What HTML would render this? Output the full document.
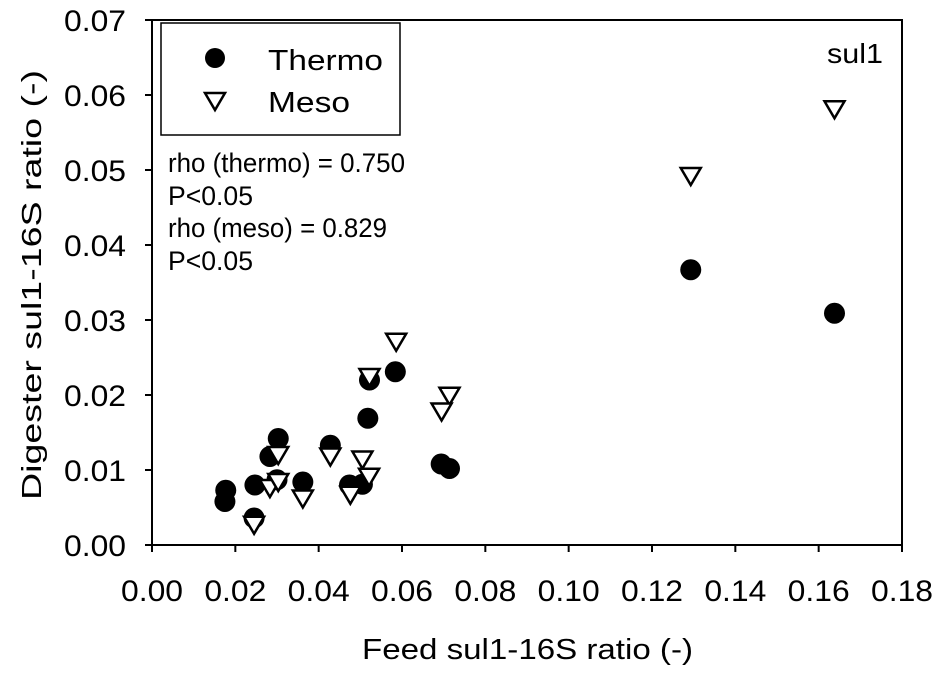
<!DOCTYPE html>
<html><head><meta charset="utf-8"><style>
body{margin:0;background:#fff}
svg{display:block;font-family:"Liberation Sans",Arial,sans-serif}
</style></head><body>
<svg id="chart" width="945" height="673" viewBox="0 0 945 673">
<rect x="0" y="0" width="945" height="673" fill="#fff"/>
<g id="axes"></g>
<g id="marks"></g>
<g>
<rect x="161" y="23" width="239" height="112" fill="#fff" stroke="#000" stroke-width="1.5"/>
<circle cx="215" cy="58" r="10" fill="#000"/>
<text x="268" y="70" font-size="29" textLength="115" lengthAdjust="spacingAndGlyphs">Thermo</text>
<path d="M205,93 L225,93 L215,110 Z" fill="#fff" stroke="#000" stroke-width="2.5"/>
<text x="268" y="112" font-size="29" textLength="82" lengthAdjust="spacingAndGlyphs">Meso</text>
</g>
<g font-size="27">
<text x="168" y="172" textLength="237" lengthAdjust="spacingAndGlyphs">rho (thermo) = 0.750</text>
<text x="168" y="205" textLength="85" lengthAdjust="spacingAndGlyphs">P&lt;0.05</text>
<text x="168" y="237" textLength="219" lengthAdjust="spacingAndGlyphs">rho (meso) = 0.829</text>
<text x="168" y="270" textLength="85" lengthAdjust="spacingAndGlyphs">P&lt;0.05</text>
</g>
<text x="827" y="63" font-size="28" textLength="56" lengthAdjust="spacingAndGlyphs">sul1</text>
<text x="362" y="659" font-size="29" textLength="331" lengthAdjust="spacingAndGlyphs">Feed sul1-16S ratio (-)</text>
<text transform="translate(41,500) rotate(-90)" font-size="28" textLength="430" lengthAdjust="spacingAndGlyphs">Digester sul1-16S ratio (-)</text>
</svg>
<script>
const xTicks=[0,0.02,0.04,0.06,0.08,0.10,0.12,0.14,0.16,0.18];
const yTicks=[0,0.01,0.02,0.03,0.04,0.05,0.06,0.07];
const thermoX=[0.0177,0.0175,0.0247,0.0245,0.0283,0.0303,0.0300,0.0362,0.0428,0.0474,0.0505,0.0518,0.0522,0.0584,0.0694,0.0714,0.1293,0.1638];
const thermoY=[0.0073,0.0058,0.0080,0.0036,0.0118,0.0142,0.0087,0.0084,0.0133,0.0080,0.0081,0.0169,0.0220,0.0231,0.0108,0.0102,0.0367,0.0309];
const mesoX=[0.0245,0.0283,0.0303,0.0303,0.0362,0.0428,0.0476,0.0505,0.0521,0.0522,0.0586,0.0714,0.0695,0.1293,0.1638];
const mesoY=[0.0027,0.0076,0.0120,0.0084,0.0062,0.0118,0.0067,0.0114,0.0091,0.0224,0.0271,0.0199,0.0178,0.0492,0.0581];
const L=152,R=902,T=20,B=545;
const sx=v=>L+v/0.18*(R-L);
const sy=v=>B-v/0.07*(B-T);
const NS='http://www.w3.org/2000/svg';
const axes=document.getElementById('axes'),marks=document.getElementById('marks');
function mk(tag,attrs,parent){const e=document.createElementNS(NS,tag);for(const k in attrs)e.setAttribute(k,attrs[k]);parent.appendChild(e);return e;}
const frame=mk('rect',{x:L,y:T,width:R-L,height:B-T,fill:'none',stroke:'#000','stroke-width':2},axes);


xTicks.forEach(v=>{
 const t=mk('line',{x1:sx(v),x2:sx(v),y1:B,y2:B+7,stroke:'#000','stroke-width':2},axes);
 
 
 const l=mk('text',{x:sx(v)-31,y:601,'font-size':30,textLength:62,lengthAdjust:'spacingAndGlyphs'},axes);
 l.textContent=v.toFixed(2);
 
 
});
yTicks.forEach(v=>{
 const t=mk('line',{x1:L-7,x2:L,y1:sy(v),y2:sy(v),stroke:'#000','stroke-width':2},axes);
 
 
 const l=mk('text',{x:64,y:sy(v)+11,'font-size':30,textLength:62,lengthAdjust:'spacingAndGlyphs'},axes);
 l.textContent=v.toFixed(2);
 
 
});
thermoX.forEach((v,i)=>{
 const c=mk('circle',{cx:sx(v),cy:sy(thermoY[i]),r:10.5,fill:'#000'},marks);
 
 
});
mesoX.forEach((v,i)=>{
 const x=sx(v),y=sy(mesoY[i]);
 const p=mk('path',{d:`M${x-10},${y-8} L${x+10},${y-8} L${x},${y+9} Z`,fill:'#fff',stroke:'#000','stroke-width':2.5},marks);
 
 
});
</script>
</body></html>
